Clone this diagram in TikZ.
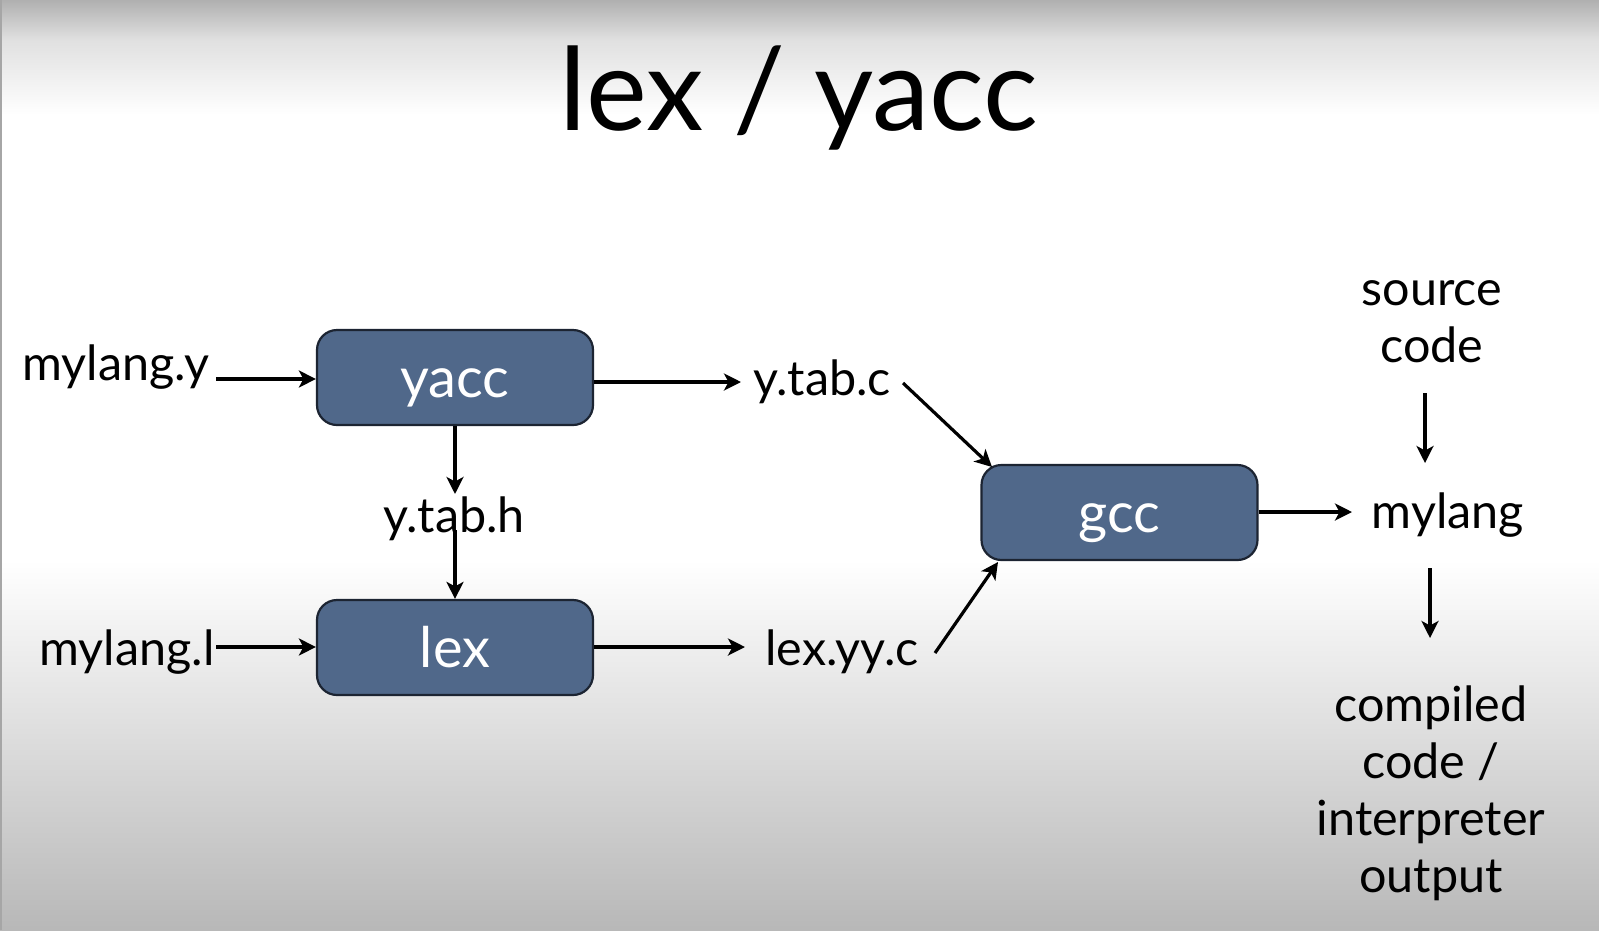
\documentclass[tikz,border=0pt]{standalone}
\usepackage{fontspec}
\setmainfont{Lato}
\usetikzlibrary{arrows.meta}
\definecolor{boxfill}{RGB}{80,104,138}
\definecolor{boxline}{RGB}{28,36,50}
\begin{document}
\begin{tikzpicture}[x=1pt,y=-1pt,
  proc/.style={draw=boxline, line width=2.2pt, fill=boxfill, rounded corners=20pt,
    minimum width=276pt, minimum height=95pt, inner sep=0pt,
    text=white, font=\fontsize{56}{56}\selectfont, text height=52pt, text depth=12pt},
  lbl/.style={font=\fontsize{48.5}{57}\selectfont, inner sep=0pt, anchor=base, align=center},
  arr/.style={line width=3.2pt, -{Stealth[length=17pt,width=17pt,inset=4.5pt]}}]
% background
\useasboundingbox (0,0) rectangle (1599,930);
\fill[white] (0,0) rectangle (1599,930);
\shade[top color=black!31, bottom color=black!12] (0,0) rectangle (1599,40);
\shade[top color=black!12, bottom color=white] (0,40) rectangle (1599,115);
\shade[top color=white, bottom color=black!28] (0,560) rectangle (1599,930);
\fill[black!35] (0,0) rectangle (1.5,930);
% title
\node[font=\fontsize{115}{115}\selectfont, inner sep=0pt, anchor=base] (title) at (799,130.5) {lex / yacc};
% boxes
\node[proc] (yacc) at (455,377.5) {yacc};
\node[proc] (lex) at (455,647.5) {lex};
\node[proc] (gcc) at (1119.5,512.5) {gcc};
% labels
\node[lbl] (mly) at (116,380) {mylang.y};
\node[lbl] (myl) at (127,665) {mylang.l};
\node[lbl] (ytc) at (822,395) {y.tab.c};
\node[lbl] (yth) at (454,532) {y.tab.h};
\node[lbl] (lyc) at (842,665) {lex.yy.c};
\node[lbl] (myo) at (1448,528) {mylang};
\node[lbl] (src) at (1432,362) {source\\code};
\node[lbl] (cmp) at (1431,892) {compiled\\code /\\interpreter\\output};
% connector ends
\coordinate (a1) at (216,379);
\coordinate (a2) at (741,382);
\coordinate (a3) at (455,494);
\coordinate (a4) at (455,530);
\coordinate (a5) at (216,647);
\coordinate (a6) at (745,647);
\coordinate (a7s) at (903,383);
\coordinate (a7e) at (992,467);
\coordinate (a8s) at (935,653);
\coordinate (a8e) at (998,562);
\coordinate (a9) at (1352,512);
\coordinate (a10s) at (1425,393);
\coordinate (a10e) at (1425,463);
\coordinate (a11s) at (1430,568);
\coordinate (a11e) at (1430,638);
% connectors
\draw[arr] (a1) -- (a1 -| yacc.west);
\draw[arr] (yacc.east |- a2) -- (a2);
\draw[arr] (yacc.south) -- (a3);
\draw[arr] (a4) -- (lex.north);
\draw[arr] (a5) -- (a5 -| lex.west);
\draw[arr] (lex.east |- a6) -- (a6);
\draw[arr] (a7s) -- (a7e);
\draw[arr] (a8s) -- (a8e);
\draw[arr] (gcc.east |- a9) -- (a9);
\draw[arr] (a10s) -- (a10e);
\draw[arr] (a11s) -- (a11e);
\end{tikzpicture}
\end{document}
